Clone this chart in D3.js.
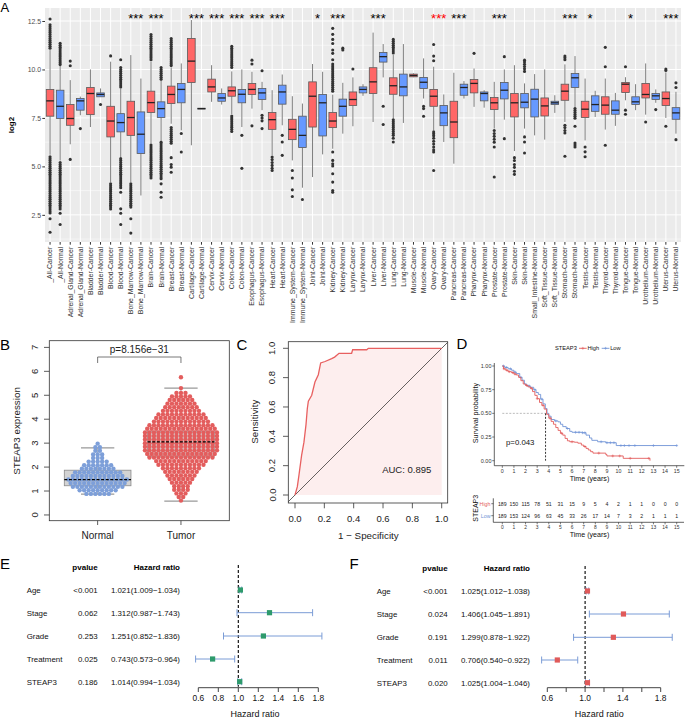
<!DOCTYPE html>
<html><head><meta charset="utf-8">
<script src="https://cdn.jsdelivr.net/npm/d3@7"></script>
<style>body{margin:0;background:#fff}svg{display:block}</style>
</head><body><svg id="c" width="685" height="718"></svg>
<script>
// ================= DATA =================
// Panel A
const catsA = ["_All-Cancer","_All-Normal","Adrenal_Gland-Cancer","Adrenal_Gland-Normal","Bladder-Cancer","Bladder-Normal","Blood-Cancer","Blood-Normal","Bone_Marrow-Cancer","Bone_Marrow-Normal","Brain-Cancer","Brain-Normal","Breast-Cancer","Breast-Normal","Cartilage-Cancer","Cartilage-Normal","Cervix-Cancer","Cervix-Normal","Colon-Cancer","Colon-Normal","Esophagus-Cancer","Esophagus-Normal","Heart-Cancer","Heart-Normal","Immune_System-Cancer","Immune_System-Normal","Joint-Cancer","Joint-Normal","Kidney-Cancer","Kidney-Normal","Larynx-Cancer","Larynx-Normal","Liver-Cancer","Liver-Normal","Lung-Cancer","Lung-Normal","Muscle-Cancer","Muscle-Normal","Ovary-Cancer","Ovary-Normal","Pancreas-Cancer","Pancreas-Normal","Pharynx-Cancer","Pharynx-Normal","Prostate-Cancer","Prostate-Normal","Skin-Cancer","Skin-Normal","Small_Intestine-Normal","Soft_Tissue-Cancer","Soft_Tissue-Normal","Stomach-Cancer","Stomach-Normal","Testis-Cancer","Testis-Normal","Thyroid-Cancer","Thyroid-Normal","Tongue-Cancer","Tongue-Normal","Urothelium-Cancer","Urothelium-Normal","Uterus-Cancer","Uterus-Normal"];
const whiskLoA = [5.6,5.3,6.14,7.64,7.03,8.59,4.19,5.48,4.19,3.5,6.17,6.34,7.2,6.86,6.09,7.96,8.33,8.19,7.7,7.03,7.98,7.9,5.57,7.12,5.31,3.9,4.45,5.62,5.91,6.69,7.07,8.64,7.29,9.59,7.47,7.24,9.6,8.5,6.86,6.26,5.14,8.5,8.07,8.03,6.95,7.41,5.79,6.95,6.6,6.38,7.76,7.29,8.03,6.34,7.55,6.9,7.09,8.41,7.9,7.67,8.28,7.5,6.69];
const q1A = [7.59,7.47,7.12,7.9,7.67,8.59,6.52,6.78,6.6,5.66,7.78,7.52,8.24,8.28,9.33,7.96,8.84,8.36,8.62,8.28,8.71,8.45,6.91,8.21,6.38,5.97,7.03,6.57,7.0,7.59,8.14,8.79,8.76,10.38,8.72,8.64,9.62,9.02,8.1,7.1,6.48,8.67,8.79,8.38,7.93,8.48,7.55,8.02,7.55,7.6,8.19,8.41,9.07,7.52,7.84,7.69,7.69,8.81,8.19,8.53,8.45,8.14,7.43];
const medA = [8.38,8.10,7.47,8.38,8.76,8.71,7.34,7.26,7.52,6.66,8.29,7.98,8.71,8.97,10.43,7.98,9.1,8.53,8.9,8.72,8.97,8.79,7.41,8.84,6.91,6.6,8.62,8.28,7.34,8.1,8.45,8.97,9.36,10.66,9.16,9.1,9.69,9.34,8.62,7.76,7.29,9.07,9.28,8.76,8.28,8.93,8.28,8.31,8.47,8.12,8.28,8.88,9.57,7.95,8.19,8.16,7.9,9.24,8.33,8.71,8.64,8.5,7.76];
const q3A = [8.97,8.93,8.19,8.5,9.07,8.79,8.10,7.72,8.36,7.81,8.88,8.33,9.14,9.28,11.6,8.0,9.5,8.76,9.1,8.97,9.28,9.02,7.78,9.19,7.43,7.59,9.36,8.71,7.78,8.47,8.84,9.1,10.09,10.88,9.57,9.76,9.76,9.59,8.97,8.14,8.36,9.24,9.48,8.84,8.55,9.33,8.76,8.76,8.98,8.53,8.36,9.24,9.79,8.36,8.64,8.59,8.38,9.33,8.59,9.28,8.76,8.84,8.03];
const whiskHiA = [11.0,10.2,9.45,8.6,10.0,9.02,10.4,9.02,10.74,9.53,10.4,9.45,10.1,10.31,12.55,8.0,10.22,9.02,9.9,10.0,9.88,9.36,8.93,9.74,8.62,8.24,10.28,9.88,8.7,9.31,9.59,9.24,11.9,11.31,10.75,11.31,9.8,10.57,10.14,8.71,9.83,9.4,10.05,8.93,9.36,10.0,10.22,9.28,9.76,10.0,8.67,10.26,10.69,9.53,8.9,9.53,8.79,9.6,9.24,10.31,8.97,9.85,8.85];
const outliersA = [
 [12.6,12.3,12.2,12.1,12.0,11.9,11.8,11.7,11.6,11.5,11.4,11.3,11.2,11.1,5.5,5.4,5.3,5.2,5.1,5.0,4.9,4.8,4.7,4.6,4.5,4.4,4.3,4.2,4.1,4.0,3.9,3.8,3.7,3.6,3.5,3.4,3.3,3.2,3.1,3.0,2.9,2.8,2.7,2.6,2.3,1.6],
 [11.35,11.25,11.15,11.05,10.95,10.85,10.75,10.65,10.55,10.45,10.35,10.25,5.2,5.1,5.0,4.9,4.8,4.7,4.6,4.5,4.4,4.3,4.2,4.1,4.0,3.9,3.8,3.7,3.6,3.5,3.4,3.3,3.2,3.1,3.0,2.9,2.8,2.58,2.0],
 [10.43,10.19,5.36],
 [6.95],
 [],
 [8.19],
 [10.7,4.1,4.0,3.9,3.8,3.7,3.6,3.5,3.4,3.3,3.2,3.1,3.0,2.9,2.8],
 [10.5,10.1,10.0,9.9,9.8,9.7,9.6,9.5,9.4,9.3,9.2,9.1,5.4,5.3,5.2,5.1,5.0,4.9,4.8,4.7,4.6,4.5,4.4,4.3,4.2,4.1,4.0,3.9,3.67,2.81,2.58,2.0],
 [4.1,4.0,3.9,3.8,3.7,3.6,3.5,3.4,3.3,3.2,3.1,3.0,2.9,2.3,1.56],
 [],
 [11.8,11.7,11.6,11.5,11.4,11.3,11.2,11.1,11.0,10.9,10.8,10.7,10.6,10.5,6.1,6.0,5.9,5.8,5.7,5.6,5.5,5.4,5.3,5.2,5.1,5.0,4.9,4.8,4.7,4.6,4.5,4.4],
 [10.1,10.0,9.9,9.8,9.7,9.6,9.5,6.25,6.15,6.05,5.95,5.85,5.75,5.65,5.55,5.45,5.35,5.25,5.15,5.05,4.95,4.85,4.75,4.65,4.55,4.45,4.36,4.1,3.67,3.41],
 [11.6,11.5,11.4,11.3,11.2,11.1,11.0,10.9,10.8,10.7,10.6,10.5,10.4,10.3,10.2,7.0,6.9,6.8,6.7,6.6,6.5,6.4,6.3,6.2,5.45,5.1,4.96,4.7],
 [6.7,5.74],
 [], [], [], [],
 [11.2,11.1,11.0,10.9,10.8,10.7,10.6,10.5,10.4,10.3,10.2,10.1,7.6,7.5,7.4,7.3,7.2,7.1,7.0,6.9,6.8],
 [6.6,4.9],
 [10.48,10.28,7.09],
 [9.93,7.64,7.5,7.35,6.95],
 [5.48,5.35,5.2,5.05,4.9,4.79],
 [6.6,6.26,5.57],
 [4.79,4.4,3.79,3.45],
 [3.29],
 [], [],
 [12.12,11.81,11.55,11.34,11.0,10.83,10.5,10.28,10.18,10.08,9.98,9.88,9.78,9.68,9.58,9.48,9.38,9.28,9.18,9.08,8.98,8.88,5.74,5.31,5.14,5.02,4.62,4.19,3.76,3.67],
 [11.1,11.0],
 [10.02],
 [], [],
 [8.1,7.16],
 [11.55,11.45,11.35,11.25,11.15,11.05,10.95,10.85,7.4,7.3,7.2,7.1,7.0,6.9,6.8,6.7,6.6,6.45,6.26],
 [], [],
 [8.1,7.98,7.59],
 [11.29,10.69,10.45,6.78,6.68,6.58,6.45,6.3,6.15,6.0,5.85,5.74,4.79],
 [], [], [],
 [10.83],
 [],
 [6.85,6.7,6.55,6.4,6.25,6.0,4.45],
 [10.66,6.43],
 [5.45,5.3,5.1,4.95,4.75,4.59],
 [10.48,10.38,10.27,10.15,10.03,9.9,6.52,6.26,5.69],
 [], [], [],
 [10.69,10.6,10.5,7.12,7.0,6.85,6.72,5.52],
 [7.98,7.88,7.78,7.68,7.58,7.48,7.07,6.21,6.1,6.0],
 [6.0,5.75,5.5],
 [],
 [11.14,10.14,6.09],
 [],
 [10.14,7.9,7.69],
 [],
 [7.29],
 [7.93],
 [10.02,9.95,7.07],
 [9.31,9.07,6.38]
];
const yTicksA = [2.5, 5.0, 7.5, 10.0, 12.5];
const starGroups = ["Bone_Marrow","Brain","Cartilage","Cervix","Colon","Esophagus","Heart","Joint","Kidney","Liver","Ovary","Pancreas","Prostate","Stomach","Testis","Tongue","Uterus"];
const starLabels = ["***","***","***","***","***","***","***","*","***","***","***","***","***","***","*","*","***"];
const starRed = ["Ovary"];

// Panel B
const groupsB = ["Normal","Tumor"];
const loB = [0.87, 0.58], q1B = [1.22, 2.45], medB = [1.48, 3.05], q3B = [1.87, 3.5], hiB = [2.8, 5.3];
const normalRowVals = [0.88,1.03,1.18,1.33,1.48,1.63,1.78,1.93,2.08,2.23,2.38,2.53,2.68,2.83,2.98];
const normalRowCounts = [6,9,12,13,14,12,11,8,7,5,3,3,2,2,1];
const tumorRowVals = [0.6,0.75,0.9,1.05,1.2,1.35,1.5,1.65,1.8,1.95,2.1,2.25,2.4,2.55,2.7,2.85,3.0,3.15,3.3,3.45,3.6,3.75,3.9,4.05,4.2,4.35,4.5,4.65,4.8,4.95,5.1,5.3,5.75];
const tumorRowCounts = [1,2,3,4,4,5,6,7,8,9,11,12,15,16,17,17,17,17,17,17,16,15,13,12,11,9,8,7,6,5,3,1,1];
const yTicksB = [0,1,2,3,4,5,6,7];
const pLabelB = "p=8.156e\u221231";

// Panel C
const rocFpr = [0,0.016,0.027,0.045,0.061,0.075,0.084,0.091,0.114,0.136,0.159,0.175,0.205,0.25,0.27,0.30,0.386,0.393,0.489,0.50,1.0];
const rocTpr = [0,0.057,0.136,0.27,0.36,0.48,0.59,0.64,0.68,0.77,0.82,0.90,0.91,0.93,0.94,0.966,0.966,0.99,0.99,1.0,1.0];
const ticksC = [0,0.2,0.4,0.6,0.8,1.0];
const aucLabel = "AUC: 0.895";

// Panel D
const kmHighT = [0,0.1,0.3,0.5,0.8,1.0,1.2,1.4,1.6,1.8,2.0,2.2,2.4,2.6,2.8,3.0,3.2,3.4,3.6,3.8,4.0,4.2,4.4,4.6,4.8,5.0,5.2,5.4,5.6,5.8,6.2,6.5,6.8,7.0,7.2,7.4,7.6,7.8,8.9,9.0,10.4,12.7];
const kmHighS = [1.0,0.97,0.955,0.94,0.93,0.915,0.905,0.88,0.845,0.81,0.795,0.78,0.765,0.73,0.69,0.655,0.615,0.585,0.545,0.49,0.45,0.415,0.385,0.35,0.32,0.29,0.27,0.235,0.21,0.20,0.195,0.185,0.165,0.15,0.13,0.113,0.095,0.08,0.065,0.05,0.025,0.0];
const kmLowT = [0,0.2,0.5,0.8,1.0,1.2,1.5,1.7,1.9,2.1,2.4,2.7,2.9,3.1,3.3,3.5,3.7,3.85,4.0,4.2,4.5,4.8,5.0,5.2,5.5,5.8,6.0,6.9,7.2,7.5,7.7,8.2,8.9,9.8,15];
const kmLowS = [1.0,0.985,0.97,0.955,0.935,0.92,0.88,0.85,0.81,0.79,0.775,0.75,0.72,0.70,0.65,0.60,0.55,0.50,0.47,0.435,0.42,0.41,0.385,0.36,0.34,0.31,0.30,0.295,0.27,0.24,0.215,0.20,0.19,0.16,0.16];
const censorHigh = [0.15,0.4,0.6,0.9,1.1,2.1,2.5,3.0,3.5,4.1,5.1,6.0,7.1,8.3,9.5,10.1,11.0,12.6];
const censorLow = [0.1,0.35,0.7,1.1,1.6,2.3,2.8,3.4,4.6,5.6,6.3,6.6,6.9,7.1,8.5,9.0,9.3,9.6,10.2,10.5,10.9,11.4,13.0,15.0];
const medianSurv = 3.72;
const riskTimes = [0,1,2,3,4,5,6,7,8,9,10,11,12,13,14,15];
const riskHigh = [189,150,115,78,51,31,15,9,5,4,2,1,1,0,0,0];
const riskLow = [189,153,124,96,63,45,33,26,17,14,7,3,2,1,1,1];
const yTicksD = [0,0.25,0.5,0.75,1.0];

// Panels E / F
const forestVars = ["Age","Stage","Grade","Treatment","STEAP3"];
const pE = ["<0.001","0.062","0.253","0.025","0.186"];
const hrE = [1.021,1.312,1.251,0.743,1.014];
const loE = [1.009,0.987,0.852,0.573,0.994];
const hiE = [1.034,1.743,1.836,0.964,1.034];
const pF = ["<0.001","0.024","0.191","0.011","0.020"];
const hrF = [1.025,1.406,1.299,0.706,1.025];
const loF = [1.012,1.045,0.878,0.540,1.004];
const hiF = [1.038,1.891,1.922,0.922,1.046];
const forestTicks = [0.6,0.8,1.0,1.2,1.4,1.6,1.8];
const forestTickLabelsF = [0.6,1.0,1.4,1.8];

// ================= DRAW =================
const FONT = "'Liberation Sans', Arial, Helvetica, sans-serif";
const svg = d3.select("#c");
function T(g, x, y, s, o = {}) {
  const t = g.append("text").attr("x", x).attr("y", y).text(s)
    .attr("font-family", FONT).attr("font-size", o.size || 8)
    .attr("fill", o.fill || "#000").attr("text-anchor", o.anchor || "start");
  if (o.weight) t.attr("font-weight", o.weight);
  if (o.rotate) t.attr("transform", `rotate(${o.rotate},${x},${y})`);
  return t;
}
function L(g, x1, y1, x2, y2, stroke, w, dash) {
  const l = g.append("line").attr("x1", x1).attr("y1", y1).attr("x2", x2).attr("y2", y2)
    .attr("stroke", stroke).attr("stroke-width", w);
  if (dash) l.attr("stroke-dasharray", dash);
  return l;
}

// ---------- Panel A ----------
const colCancer = "#FF6666", colNormal = "#6699FF";
const xA = d3.scaleBand().domain(catsA).range([45, 681]);
const yA = d3.scaleLinear().domain([1.1, 13.17]).range([242, 8]);
const gA = svg.append("g");
gA.append("rect").attr("x", 45).attr("y", 8).attr("width", 636).attr("height", 234).attr("fill", "#EBEBEB");
[1.25, 3.75, 6.25, 8.75, 11.25].forEach(v => L(gA, 45, yA(v), 681, yA(v), "#fff", 0.5));
yTicksA.forEach(v => L(gA, 45, yA(v), 681, yA(v), "#fff", 1));
catsA.forEach(c => { const cx = xA(c) + xA.bandwidth() / 2; L(gA, cx, 8, cx, 242, "#fff", 1); });
const bwA = 7.6;
catsA.forEach((c, i) => {
  const cx = xA(c) + xA.bandwidth() / 2;
  const fill = c.endsWith("Cancer") ? colCancer : colNormal;
  L(gA, cx, yA(whiskLoA[i]), cx, yA(q1A[i]), "#707070", 0.9);
  L(gA, cx, yA(q3A[i]), cx, yA(whiskHiA[i]), "#707070", 0.9);
  gA.append("rect").attr("x", cx - bwA / 2).attr("y", yA(q3A[i]))
    .attr("width", bwA).attr("height", Math.max(0.8, yA(q1A[i]) - yA(q3A[i])))
    .attr("fill", fill).attr("stroke", "#595959").attr("stroke-width", 0.8);
  L(gA, cx - bwA / 2, yA(medA[i]), cx + bwA / 2, yA(medA[i]), "#222", 1.3);
  outliersA[i].forEach(v => gA.append("circle").attr("cx", cx).attr("cy", yA(v)).attr("r", 1.55).attr("fill", "#333"));
});
const axA = gA.append("g").attr("transform", "translate(45,0)")
  .call(d3.axisLeft(yA).tickValues(yTicksA).tickFormat(d3.format(".1f")).tickSize(2.7).tickPadding(1.2));
axA.select(".domain").remove();
axA.selectAll("line").attr("stroke", "#333");
axA.selectAll("text").attr("font-size", 6.9).attr("fill", "#4D4D4D").attr("font-family", FONT);
const axAx = gA.append("g").attr("transform", "translate(0,242)")
  .call(d3.axisBottom(xA).tickSize(2.7));
axAx.select(".domain").remove();
axAx.selectAll("line").attr("stroke", "#333");
axAx.selectAll("text").attr("transform", "rotate(-90)").attr("x", -4.8).attr("y", 0).attr("dy", "0.35em")
  .attr("text-anchor", "end").attr("font-size", 6.9).attr("fill", "#333").attr("font-family", FONT);
T(gA, 14, 125, "log2", { size: 8, weight: "bold", anchor: "middle", rotate: -90 });
starGroups.forEach((g, i) => {
  const a = xA(g + "-Cancer") + xA.bandwidth() / 2, b = xA(g + "-Normal") + xA.bandwidth() / 2;
  T(gA, (a + b) / 2, 23, starLabels[i], { size: 13, anchor: "middle", fill: starRed.includes(g) ? "#FF0000" : "#000" });
});
T(svg, 0.5, 12, "A", { size: 13 });

// ---------- Panel B ----------
const gB = svg.append("g");
const xB = d3.scaleLinear().domain([0.42, 2.58]).range([49.3, 229.3]);
const yB = d3.scaleLinear().domain([-0.24, 7.28]).range([520.7, 340.7]);
const bBoxW = 0.8, capW = 0.4;
groupsB.forEach((g, i) => {
  const p = i + 1;
  gB.append("rect").attr("x", xB(p - bBoxW / 2)).attr("y", yB(q3B[i]))
    .attr("width", xB(p + bBoxW / 2) - xB(p - bBoxW / 2)).attr("height", yB(q1B[i]) - yB(q3B[i]))
    .attr("fill", "#D3D3D3").attr("stroke", "#8a8a8a").attr("stroke-width", 0.8);
  L(gB, xB(p), yB(q3B[i]), xB(p), yB(hiB[i]), "#999", 0.8);
  L(gB, xB(p), yB(q1B[i]), xB(p), yB(loB[i]), "#999", 0.8);
  L(gB, xB(p - capW / 2), yB(hiB[i]), xB(p + capW / 2), yB(hiB[i]), "#999", 1.2);
  L(gB, xB(p - capW / 2), yB(loB[i]), xB(p + capW / 2), yB(loB[i]), "#999", 1.2);
});
const sp = 4.5;
function swarm(vals, counts, pos, color) {
  vals.forEach((v, r) => {
    const n = counts[r];
    for (let k = 0; k < n; k++) {
      gB.append("circle").attr("cx", xB(pos) + (k - (n - 1) / 2) * sp).attr("cy", yB(v))
        .attr("r", 2.2).attr("fill", color);
    }
  });
}
swarm(normalRowVals, normalRowCounts, 1, "#7D9FD9");
swarm(tumorRowVals, tumorRowCounts, 2, "#E35D5D");
groupsB.forEach((g, i) => {
  const p = i + 1;
  L(gB, xB(p - bBoxW / 2), yB(medB[i]), xB(p + bBoxW / 2), yB(medB[i]), "#000", 1.3, "3,1.6");
});
gB.append("rect").attr("x", 49.3).attr("y", 340.7).attr("width", 180).attr("height", 180)
  .attr("fill", "none").attr("stroke", "#333").attr("stroke-width", 0.8);
yTicksB.forEach(v => {
  L(gB, 44, yB(v), 49.3, yB(v), "#333", 0.8);
  T(gB, 38, yB(v), String(v), { size: 9.5, anchor: "middle", rotate: -90, fill: "#222" });
});
groupsB.forEach((g, i) => {
  L(gB, xB(i + 1), 520.7, xB(i + 1), 525, "#333", 0.8);
  T(gB, xB(i + 1), 538.5, g, { size: 10, anchor: "middle", fill: "#222" });
});
T(gB, 20, 431, "STEAP3 expression", { size: 9.8, anchor: "middle", rotate: -90, fill: "#222" });
gB.append("path").attr("d", `M${xB(1)},363 V357 H${xB(2)} V363`).attr("fill", "none").attr("stroke", "#555").attr("stroke-width", 0.8);
T(gB, (xB(1) + xB(2)) / 2, 352.5, pLabelB, { size: 10, anchor: "middle", fill: "#222" });
T(svg, 0, 350, "B", { size: 15 });

// ---------- Panel C ----------
const gC = svg.append("g");
const xC = d3.scaleLinear().domain([0, 1]).range([295, 441.7]);
const yC = d3.scaleLinear().domain([0, 1]).range([495, 348.3]);
gC.append("clipPath").attr("id", "clipC").append("rect").attr("x", 288.3).attr("y", 341.7).attr("width", 159.4).attr("height", 161.3);
const rocPts = rocFpr.map((f, i) => [f, rocTpr[i]]);
const areaPts = rocPts.concat([[1, 0], [0, 0]]);
gC.append("path").attr("d", d3.line().x(d => xC(d[0])).y(d => yC(d[1]))(areaPts) + "Z").attr("fill", "#FDEEEE");
gC.append("line").attr("clip-path", "url(#clipC)").attr("x1", xC(-0.1)).attr("y1", yC(-0.1)).attr("x2", xC(1.1)).attr("y2", yC(1.1)).attr("stroke", "#222").attr("stroke-width", 0.7);
gC.append("path").attr("d", d3.line().x(d => xC(d[0])).y(d => yC(d[1]))(rocPts)).attr("fill", "none").attr("stroke", "#E86060").attr("stroke-width", 1.3);
gC.append("rect").attr("x", 288.3).attr("y", 341.7).attr("width", 159.4).attr("height", 161.3).attr("fill", "none").attr("stroke", "#333").attr("stroke-width", 0.8);
ticksC.forEach(v => {
  L(gC, 283, yC(v), 288.3, yC(v), "#333", 0.8);
  T(gC, 275.5, yC(v), v.toFixed(1), { size: 9.5, anchor: "middle", rotate: -90, fill: "#222" });
  L(gC, xC(v), 503, xC(v), 508.3, "#333", 0.8);
  T(gC, xC(v), 522, v.toFixed(1), { size: 9.5, anchor: "middle", fill: "#222" });
});
T(gC, 258, 421.7, "Sensitivity", { size: 9.8, anchor: "middle", rotate: -90, fill: "#222" });
T(gC, xC(0.5), 538.5, "1 \u2212 Specificity", { size: 9.8, anchor: "middle", fill: "#222" });
T(gC, 406.7, 472.8, aucLabel, { size: 9.5, anchor: "middle", fill: "#222" });
T(svg, 236.5, 349.5, "C", { size: 15 });

// ---------- Panel D ----------
const gD = svg.append("g");
const colHigh = "#E35C5C", colLow = "#7094D6";
const xD = d3.scaleLinear().domain([0, 15]).range([502.3, 676.7]);
const yD = d3.scaleLinear().domain([0, 1]).range([460.7, 366]);
L(gD, xD(0), yD(0.5), xD(medianSurv), yD(0.5), "#aaa", 0.8, "2,1.5");
L(gD, xD(medianSurv), yD(0.5), xD(medianSurv), yD(0), "#000", 0.8, "2,1.5");
const stepLine = d3.line().curve(d3.curveStepAfter).x(d => xD(d[0])).y(d => yD(d[1]));
function stepVal(T_, S_, t) { let s = S_[0]; for (let i = 0; i < T_.length; i++) if (T_[i] <= t) s = S_[i]; return s; }
[[kmLowT, kmLowS, colLow, censorLow], [kmHighT, kmHighS, colHigh, censorHigh]].forEach(([Tt, Ss, col, cens]) => {
  gD.append("path").attr("d", stepLine(Tt.map((t, i) => [t, Ss[i]]))).attr("fill", "none").attr("stroke", col).attr("stroke-width", 0.9);
  cens.forEach(t => {
    const cx = xD(t), cy = yD(stepVal(Tt, Ss, t));
    gD.append("path").attr("d", `M${cx - 1.4},${cy}H${cx + 1.4}M${cx},${cy - 1.4}V${cy + 1.4}`).attr("stroke", col).attr("stroke-width", 0.6);
  });
});
L(gD, 494.3, 363, 494.3, 465.7, "#222", 0.7);
L(gD, 494.3, 465.7, 684.3, 465.7, "#222", 0.7);
yTicksD.forEach(v => {
  L(gD, 492.2, yD(v), 494.3, yD(v), "#222", 0.6);
  T(gD, 491.5, yD(v) + 1.9, v.toFixed(2), { size: 5.5, anchor: "end", fill: "#333" });
});
riskTimes.forEach(t => {
  L(gD, xD(t), 465.7, xD(t), 467.8, "#222", 0.6);
  T(gD, xD(t), 473, String(t), { size: 5.3, anchor: "middle", fill: "#333" });
});
T(gD, (xD(0) + xD(15)) / 2, 480.8, "Time (years)", { size: 7.1, anchor: "middle", fill: "#111" });
T(gD, 478, 413, "Survival probability", { size: 7.2, anchor: "middle", rotate: -90, fill: "#111" });
T(gD, 506, 445, "p=0.043", { size: 7.8, fill: "#111" });
// legend
T(gD, 555, 350.3, "STEAP3", { size: 5.7, fill: "#111" });
[[579, "High", colHigh], [601.7, "Low", colLow]].forEach(([x0, lab, col]) => {
  L(gD, x0, 348.3, x0 + 7.7, 348.3, col, 0.9);
  gD.append("path").attr("d", `M${x0 + 3.85 - 1.4},348.3H${x0 + 3.85 + 1.4}M${x0 + 3.85},346.9V349.7`).attr("stroke", col).attr("stroke-width", 0.6);
  T(gD, x0 + 8.5, 350.3, lab, { size: 5.7, fill: "#111" });
});
// risk table
L(gD, 493.3, 498.3, 493.3, 522.3, "#222", 0.7);
L(gD, 493.3, 522.3, 684, 522.3, "#222", 0.7);
[[riskHigh, 503.7, "High", colHigh], [riskLow, 515.7, "Low", colLow]].forEach(([arr, y, lab, col]) => {
  L(gD, 491.3, y, 493.3, y, "#222", 0.6);
  T(gD, 490.5, y + 1.8, lab, { size: 5.3, anchor: "end", fill: col });
  arr.forEach((n, i) => T(gD, xD(riskTimes[i]), y + 1.8, String(n), { size: 5.2, anchor: "middle", fill: "#222" }));
});
riskTimes.forEach(t => {
  L(gD, xD(t), 522.3, xD(t), 524.3, "#222", 0.6);
  T(gD, xD(t), 529.3, String(t), { size: 4.9, anchor: "middle", fill: "#333" });
});
T(gD, (xD(0) + xD(15)) / 2, 537, "Time (years)", { size: 7.1, anchor: "middle", fill: "#111" });
T(gD, 478, 508.3, "STEAP3", { size: 7, anchor: "middle", rotate: -90, fill: "#111" });
T(svg, 456.5, 349, "D", { size: 15 });

// ---------- Panels E / F ----------
function forest(cfg) {
  const g = svg.append("g");
  const x = d3.scaleLinear().domain([0.6, 1.8]).range(cfg.range);
  const fs = 7.9;
  T(g, cfg.pRight, cfg.headY, "pvalue", { size: 8, weight: "bold", anchor: "end" });
  T(g, cfg.hrRight, cfg.headY, "Hazard ratio", { size: 8, weight: "bold", anchor: "end" });
  L(g, x(1), cfg.dashTop, x(1), cfg.dashBot, "#000", 1.1, "3,2");
  forestVars.forEach((v, i) => {
    const y = cfg.rows[i];
    T(g, cfg.nameX, y + 2.8, v, { size: fs, fill: "#111" });
    T(g, cfg.pRight, y + 2.8, cfg.p[i], { size: fs, anchor: "end", fill: "#111" });
    T(g, cfg.hrRight, y + 2.8, `${cfg.hr[i].toFixed(3)}(${cfg.lo[i].toFixed(3)}\u2212${cfg.hi[i].toFixed(3)})`, { size: fs, anchor: "end", fill: "#111" });
    L(g, x(cfg.lo[i]), y, x(cfg.hi[i]), y, "#7B9CD6", 1);
    L(g, x(cfg.lo[i]), y - 3.5, x(cfg.lo[i]), y + 3.5, "#7B9CD6", 1);
    L(g, x(cfg.hi[i]), y - 3.5, x(cfg.hi[i]), y + 3.5, "#7B9CD6", 1);
    g.append("rect").attr("x", x(cfg.hr[i]) - 2.6).attr("y", y - 2.6).attr("width", 5.2).attr("height", 5.2).attr("fill", cfg.col);
  });
  L(g, x(0.6), 687.7, x(1.8), 687.7, "#444", 1);
  forestTicks.forEach(t => L(g, x(t), 687.7, x(t), 692, "#444", 1));
  cfg.labels.forEach(t => T(g, x(t), 701, t.toFixed(1), { size: 8.4, anchor: "middle", fill: "#111" }));
  T(g, cfg.xlabX, 716.5, "Hazard ratio", { size: 9, anchor: "middle", fill: "#111" });
}
forest({ range: [198.3, 318.3], rows: [590, 612.7, 636, 659, 681.7], headY: 569.5, nameX: 26.7, pRight: 97.7, hrRight: 180,
  p: pE, hr: hrE, lo: loE, hi: hiE, col: "#2E9A6C", dashTop: 565, dashBot: 686.7, labels: forestTicks, xlabX: 255 });
forest({ range: [547.3, 660.7], rows: [591, 614, 637.3, 660, 682.7], headY: 570.5, nameX: 376.7, pRight: 447.7, hrRight: 530,
  p: pF, hr: hrF, lo: loF, hi: hiF, col: "#E05A5A", dashTop: 566, dashBot: 687.7, labels: forestTickLabelsF, xlabX: 599.3 });
T(svg, 0, 568.5, "E", { size: 15 });
T(svg, 349.5, 569, "F", { size: 15 });
</script></body></html>
